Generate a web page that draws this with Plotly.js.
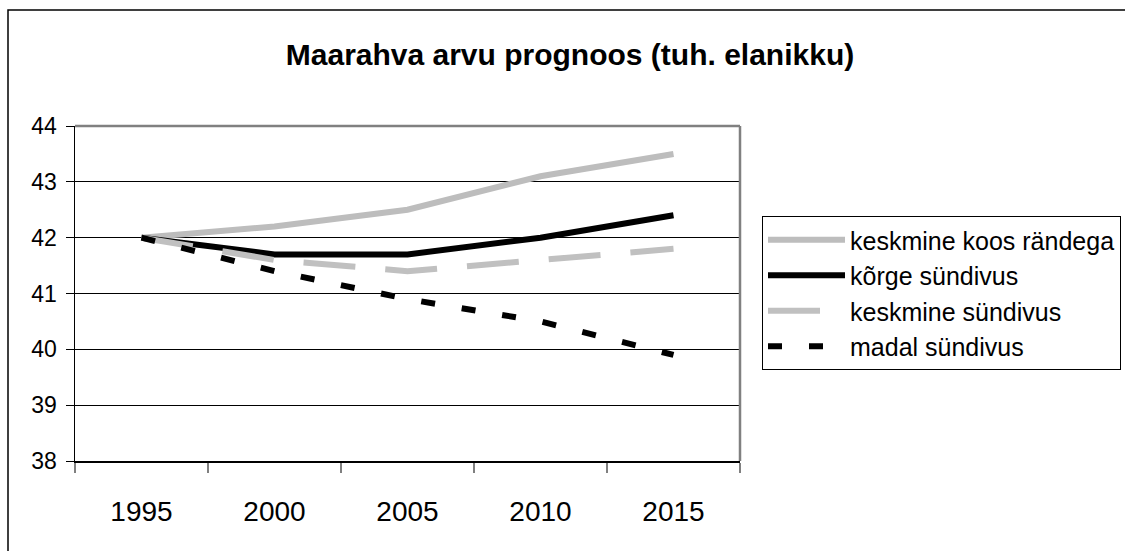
<!DOCTYPE html>
<html>
<head>
<meta charset="utf-8">
<script src="https://cdn.plot.ly/plotly-3.0.1.min.js"></script>
<style>html,body{margin:0;padding:0;background:#fff;}#chart{width:1125px;height:551px;}</style>
</head>
<body>
<div id="chart"></div>
<script>
const years = ['1995', '2000', '2005', '2010', '2015'];
const keskmineKoosRandega = [42.0, 42.2, 42.5, 43.1, 43.5];
const korgeSundivus = [42.0, 41.7, 41.7, 42.0, 42.4];
const keskmineSundivus = [42.0, 41.6, 41.4, 41.6, 41.8];
const madalSundivus = [42.0, 41.4, 40.9, 40.5, 39.9];
const seriesNames = ['keskmine koos rändega', 'kõrge sündivus', 'keskmine sündivus', 'madal sündivus'];
const yTicks = [38, 39, 40, 41, 42, 43, 44];

const W = 1125, H = 551;
const L = 75, R = 740, T = 126, B = 461;
const pw = R - L, ph = B - T;
const px = v => (v - L) / pw;
const py = v => (B - v) / ph;

const font = '"Liberation Sans", Arial, sans-serif';

const traces = [
  {x: years, y: keskmineKoosRandega, name: seriesNames[0], mode: 'lines',
   line: {color: '#bdbdbd', width: 6, shape: 'linear'}},
  {x: years, y: korgeSundivus, name: seriesNames[1], mode: 'lines',
   line: {color: '#000000', width: 6, shape: 'linear'}},
  {x: years, y: keskmineSundivus, name: seriesNames[2], mode: 'lines',
   line: {color: '#c0c0c0', width: 6, dash: '52px,30px', shape: 'linear'}},
  {x: years, y: madalSundivus, name: seriesNames[3], mode: 'lines',
   line: {color: '#000000', width: 6, dash: '14px,27px', shape: 'linear'}}
].map((t, i) => Object.assign(t, {type: 'scatter', legendgroup: 'g' + i, hoverinfo: 'skip'}));

const layout = {
  width: W, height: H,
  margin: {l: L, r: W - R, t: T, b: H - B, pad: 0, autoexpand: false},
  paper_bgcolor: '#ffffff', plot_bgcolor: '#ffffff',
  font: {family: font, color: '#000000'},
  showlegend: true,
  title: {text: '<b>Maarahva arvu prognoos (tuh. elanikku)</b>',
          font: {family: font, size: 30, color: '#000'},
          x: 570 / W, xref: 'container', xanchor: 'center',
          y: 1 - 54 / H, yref: 'container', yanchor: 'middle'},
  xaxis: {
    type: 'category', range: [-0.5, 4.5], fixedrange: true, automargin: false,
    showgrid: false, zeroline: false,
    showline: true, linecolor: '#000', linewidth: 1.5,
    ticks: 'outside', tickson: 'boundaries', ticklen: 10, tickcolor: '#808080', tickwidth: 1.5,
    tickfont: {family: font, size: 28, color: '#000'},
    ticklabelstandoff: 25
  },
  yaxis: {
    range: [38, 44], tickvals: yTicks, fixedrange: true, automargin: false,
    showgrid: true, gridcolor: '#000', gridwidth: 1,
    zeroline: false, showline: true, linecolor: '#000', linewidth: 1.5,
    ticks: 'outside', ticklen: 8, tickcolor: '#000', tickwidth: 1,
    tickfont: {family: font, size: 23, color: '#000'},
    ticklabelstandoff: 4
  },
  legend: {
    x: px(762), y: py(216), xanchor: 'left', yanchor: 'top',
    bgcolor: '#ffffff', bordercolor: '#000', borderwidth: 1,
    font: {family: font, size: 25, color: '#000'},
    itemwidth: 77, tracegroupgap: 8, traceorder: 'normal',
    itemclick: false, itemdoubleclick: false
  },
  shapes: [
    {type: 'line', xref: 'paper', yref: 'paper', x0: 0, x1: 1, y0: 1, y1: 1,
     line: {color: '#808080', width: 2.5}},
    {type: 'line', xref: 'paper', yref: 'paper', x0: 1, x1: 1, y0: 0, y1: 1,
     line: {color: '#808080', width: 2.5}},
    {type: 'rect', xref: 'paper', yref: 'paper',
     x0: px(8), x1: px(1140), y0: py(570), y1: py(10),
     line: {color: '#000', width: 1.5}, fillcolor: 'rgba(0,0,0,0)', layer: 'above'}
  ]
};

Plotly.newPlot('chart', traces, layout, {staticPlot: true, displayModeBar: false});
</script>
</body>
</html>
